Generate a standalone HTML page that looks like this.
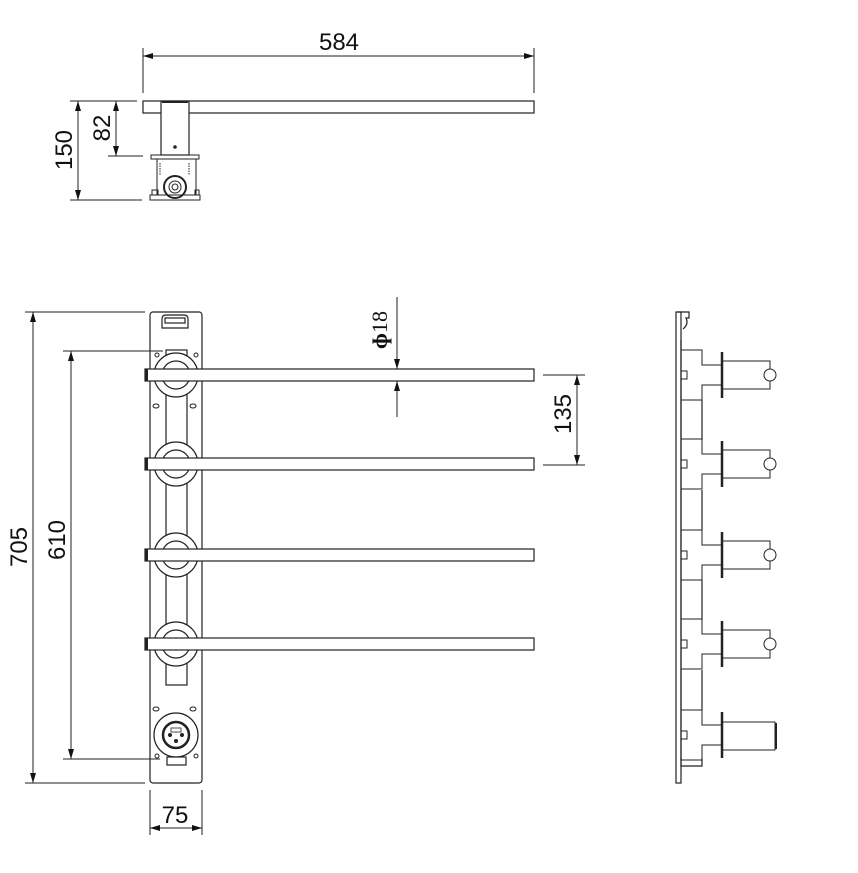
<!DOCTYPE html>
<html><head><style>html,body{margin:0;padding:0;background:#fff}svg{display:block}text{font-family:"Liberation Sans",sans-serif;fill:#111}</style></head>
<body>
<svg width="858" height="873" viewBox="0 0 858 873" xmlns="http://www.w3.org/2000/svg">
<defs>
<marker id="a" viewBox="0 0 10 6" refX="10" refY="3" markerWidth="10" markerHeight="6" orient="auto-start-reverse" markerUnits="userSpaceOnUse"><path d="M0,0 L10,3 L0,6 z" fill="#111"/></marker>
<g id="ring">
<circle cx="176" cy="0" r="22" fill="#fff" stroke="#222" stroke-width="1.2"/>
<circle cx="176" cy="0" r="14" fill="#fff" stroke="#222" stroke-width="1.2"/>
</g>
<g id="bar">
<rect x="145" y="-6" width="389" height="12" fill="#fff" stroke="#222" stroke-width="1.2"/>
<rect x="145" y="-6" width="3" height="12" fill="#222"/>
</g>
<g id="side" fill="none" stroke="#222" stroke-width="1">
<path d="M681,-25 H702 V-10 H722 M722,10 H702 V25 H681"/>
<path d="M681,-25 V-35 M681,25 V35"/>
<rect x="681" y="-4" width="6" height="8"/>
<line x1="722" y1="-23" x2="722" y2="23" stroke-width="2.5"/>
<path d="M709,-10 h10 M709,10 h10" stroke-dasharray="1.5 1"/>
</g>
</defs>

<!-- TOP VIEW -->
<g stroke="#222" stroke-width="1" fill="none">
<line x1="143" y1="48" x2="143" y2="93"/><line x1="534" y1="48" x2="534" y2="93"/>
<line x1="143" y1="56" x2="534" y2="56" marker-start="url(#a)" marker-end="url(#a)"/>
<rect x="143" y="101" width="391" height="12" stroke-width="1.2"/>
<rect x="161" y="101" width="28" height="54" fill="#fff" stroke-width="1.2"/>
<line x1="162" y1="102" x2="188" y2="102" stroke-width="2"/>
<rect x="151" y="155" width="48" height="4"/>
<rect x="157" y="159" width="39" height="36"/>
<rect x="150" y="195" width="50" height="5"/>
<rect x="152" y="190" width="6" height="5"/><rect x="195" y="190" width="4" height="5"/>
<circle cx="175" cy="187" r="11" stroke-width="2"/><circle cx="175" cy="187" r="6"/><circle cx="175" cy="187" r="3"/>
<path d="M160,163 v12 M189,163 v12" stroke-dasharray="1.5 1"/>
<line x1="70" y1="101" x2="137" y2="101"/><line x1="70" y1="200" x2="142" y2="200"/>
<line x1="78" y1="101" x2="78" y2="200" marker-start="url(#a)" marker-end="url(#a)"/>
<line x1="108" y1="156" x2="143" y2="156"/>
<line x1="116" y1="101" x2="116" y2="156" marker-start="url(#a)" marker-end="url(#a)"/>
</g>
<circle cx="175" cy="147" r="1.8" fill="#222"/>
<text x="339" y="50" font-size="24" text-anchor="middle">584</text>
<text transform="translate(72,150) rotate(-90)" font-size="24" text-anchor="middle">150</text>
<text transform="translate(110,128) rotate(-90)" font-size="24" text-anchor="middle">82</text>

<!-- FRONT VIEW -->
<g stroke="#222" stroke-width="1.2" fill="none">
<rect x="150" y="312" width="52" height="471" rx="3"/>
<path d="M162,328 v-9 q0,-4 4,-4 h18 q4,0 4,4 v9 z" fill="#fff"/>
<rect x="165" y="318" width="20" height="5"/>
<rect x="166" y="350" width="21" height="8" fill="#fff"/>
<rect x="166" y="385" width="21" height="300" fill="#fff"/>
<rect x="167" y="757" width="19" height="8" fill="#fff"/>
</g>
<g fill="none" stroke="#222" stroke-width="1">
<circle cx="157" cy="355" r="2"/><circle cx="196" cy="355" r="2"/>
<ellipse cx="156" cy="406" rx="3" ry="2"/><ellipse cx="193" cy="406" rx="3" ry="2"/>
<ellipse cx="156" cy="709" rx="3" ry="2"/><ellipse cx="193" cy="709" rx="3" ry="2"/>
<circle cx="157" cy="756" r="2"/><circle cx="196" cy="756" r="2"/>
</g>
<use href="#ring" y="375"/><use href="#ring" y="464"/><use href="#ring" y="555"/><use href="#ring" y="644"/>
<use href="#bar" y="375"/><use href="#bar" y="464"/><use href="#bar" y="555"/><use href="#bar" y="644"/>
<circle cx="176" cy="735" r="22" fill="#fff" stroke="#222" stroke-width="1.2"/>
<circle cx="176" cy="735" r="13" fill="#fff" stroke="#222" stroke-width="2.5"/>
<circle cx="170" cy="735" r="2" fill="#222"/><circle cx="182" cy="735" r="2" fill="#222"/><circle cx="176" cy="741" r="2" fill="#222"/>
<rect x="171" y="728" width="10" height="4" fill="none" stroke="#222" stroke-width="0.8"/>

<g stroke="#222" stroke-width="1" fill="none">
<line x1="25" y1="312" x2="145" y2="312"/><line x1="25" y1="783" x2="145" y2="783"/>
<line x1="33" y1="312" x2="33" y2="783" marker-start="url(#a)" marker-end="url(#a)"/>
<line x1="63" y1="351" x2="163" y2="351"/><line x1="63" y1="759" x2="160" y2="759"/>
<line x1="71" y1="351" x2="71" y2="759" marker-start="url(#a)" marker-end="url(#a)"/>
<line x1="150" y1="790" x2="150" y2="835"/><line x1="202" y1="790" x2="202" y2="835"/>
<line x1="150" y1="828" x2="202" y2="828" marker-start="url(#a)" marker-end="url(#a)"/>
<line x1="397" y1="297" x2="397" y2="369" marker-end="url(#a)"/>
<line x1="397" y1="417" x2="397" y2="381" marker-end="url(#a)"/>
<line x1="543" y1="375" x2="585" y2="375"/><line x1="543" y1="465" x2="585" y2="465"/>
<line x1="577" y1="375" x2="577" y2="465" marker-start="url(#a)" marker-end="url(#a)"/>
</g>
<text transform="translate(27,547) rotate(-90)" font-size="24" text-anchor="middle">705</text>
<text transform="translate(65,540) rotate(-90)" font-size="24" text-anchor="middle">610</text>
<text x="175" y="823" font-size="24" text-anchor="middle">75</text>
<text transform="translate(387,330) rotate(-90)" font-size="22" text-anchor="middle" style="font-family:'Liberation Serif',serif"><tspan font-weight="bold">ɸ</tspan>18</text>
<text transform="translate(571,414) rotate(-90)" font-size="24" text-anchor="middle">135</text>

<!-- SIDE VIEW -->
<g stroke="#222" stroke-width="1.2" fill="none">
<rect x="676" y="312" width="5" height="471"/>
<path d="M677,312 h12 v6 h-3 q3,6 -3,11"/>
<line x1="681" y1="340" x2="681" y2="760"/>
<line x1="702" y1="400" x2="702" y2="440"/><line x1="702" y1="490" x2="702" y2="530"/>
<line x1="702" y1="580" x2="702" y2="620"/><line x1="702" y1="670" x2="702" y2="710"/>
<path d="M681,758 v8 h21 v-8"/>
</g>
<use href="#side" y="375"/><use href="#side" y="464"/><use href="#side" y="555"/><use href="#side" y="644"/><use href="#side" y="735"/>
<g fill="none" stroke="#222" stroke-width="1">
<path d="M722,361 H770 V369 M770,381 V389 H722"/><circle cx="770" cy="375" r="6"/>
<path d="M722,450 H770 V458 M770,470 V478 H722"/><circle cx="770" cy="464" r="6"/>
<path d="M722,541 H770 V549 M770,561 V569 H722"/><circle cx="770" cy="555" r="6"/>
<path d="M722,630 H770 V638 M770,650 V658 H722"/><circle cx="770" cy="644" r="6"/>
<path d="M722,722 H775 V750 H722"/><line x1="776" y1="723" x2="776" y2="749" stroke-width="2"/>
</g>
</svg>
</body></html>
